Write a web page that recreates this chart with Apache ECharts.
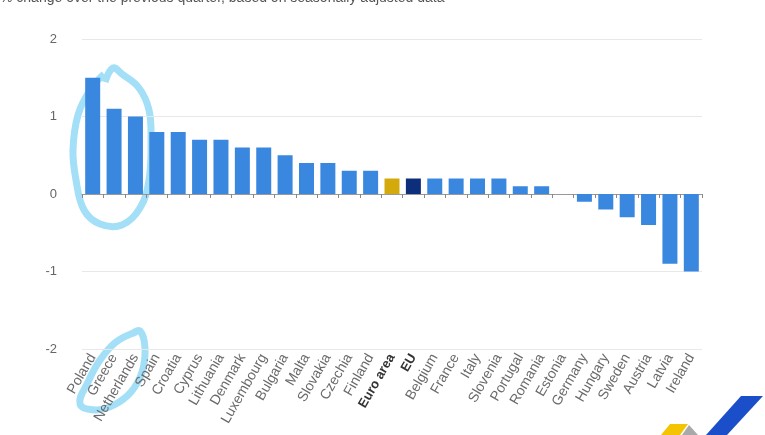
<!DOCTYPE html>
<html>
<head>
<meta charset="utf-8">
<script src="https://cdn.jsdelivr.net/npm/echarts@6/dist/echarts.min.js"></script>
<style>
html,body{margin:0;padding:0;background:#fff;}
#chart{width:765px;height:435px;}
</style>
</head>
<body>
<div id="chart"></div>
<script>
const subtitle = '% change over the previous quarter, based on seasonally adjusted data';
const countries = ['Poland','Greece','Netherlands','Spain','Croatia','Cyprus','Lithuania','Denmark','Luxembourg','Bulgaria','Malta','Slovakia','Czechia','Finland','Euro area','EU','Belgium','France','Italy','Slovenia','Portugal','Romania','Estonia','Germany','Hungary','Sweden','Austria','Latvia','Ireland'];
const values = [1.5,1.1,1.0,0.8,0.8,0.7,0.7,0.6,0.6,0.5,0.4,0.4,0.3,0.3,0.2,0.2,0.2,0.2,0.2,0.2,0.1,0.1,0.0,-0.1,-0.2,-0.3,-0.4,-0.9,-1.0];
const yTicks = [-2,-1,0,1,2];
const highlight = {'Euro area':'#d4a90c','EU':'#0d2e7a'};
const baseColor = '#3a87e0';

const chart = echarts.init(document.getElementById('chart'));
const barData = countries.map((c,i)=>({value: values[i], itemStyle:{color: highlight[c] || baseColor}}));
const pen = 'rgba(140,215,245,0.8)';

chart.setOption({
  animation:false,
  backgroundColor:'#fff',
  textStyle:{fontFamily:'Liberation Sans, Arial, sans-serif'},
  graphic:[
    {type:'text', left:0, top:-9, style:{text:subtitle, fill:'#555', fontSize:14, fontFamily:'Liberation Sans, Arial, sans-serif'}},
    {type:'polyline', silent:true, shape:{smooth:0.4, points:[[105,82],[113,68],[122,74],[139,88],[149,110],[151,140],[149,180],[140,208],[122,225],[100,224],[84,210],[76,180],[73,150],[78,115],[90,90],[104,74]]},
     style:{stroke:pen, lineWidth:7, fill:null}},
    {type:'polyline', silent:true, shape:{smooth:0.4, points:[[132,334],[140,331],[145,348],[142,372],[131,392],[114,405],[96,410],[80,404],[88,382],[100,360],[116,342],[136,332]]},
     style:{stroke:pen, lineWidth:7, fill:null}},
    {type:'polygon', silent:true, shape:{points:[[661,435],[670,424],[688,424],[680,435]]}, style:{fill:'#f5c400'}},
    {type:'polygon', silent:true, shape:{points:[[682,435],[689,425],[698,435]]}, style:{fill:'#a9a9a9'}},
    {type:'polygon', silent:true, shape:{points:[[706,435],[741,396],[763,396],[727,435]]}, style:{fill:'#1b4fc9'}}
  ],
  grid:{left:82, right:63, top:39, bottom:86},
  xAxis:[
    {type:'category', data:countries, position:'bottom',
     axisLine:{show:false, onZero:false}, axisTick:{show:false}, splitLine:{show:false},
     axisLabel:{interval:0, rotate:60, margin:6, color:'#6a6a6a', fontSize:14,
       formatter:(v)=> highlight[v] ? '{b|'+v+'}' : v,
       rich:{b:{fontWeight:'bold', color:'#333', fontSize:13}}}},
    {type:'category', data:countries, position:'bottom',
     axisLine:{show:true, onZero:true, lineStyle:{color:'#999', width:1}},
     axisTick:{show:true, interval:0, length:4, lineStyle:{color:'#888'}},
     axisLabel:{show:false}, splitLine:{show:false}}
  ],
  yAxis:{type:'value', min:-2, max:2, interval:1,
    axisLine:{show:false}, axisTick:{show:false},
    axisLabel:{color:'#666', fontSize:13, margin:25, formatter:(v)=> yTicks.includes(v) ? String(v) : ''},
    splitLine:{lineStyle:{color:'#e8e8e8'}}},
  series:[{type:'bar', xAxisIndex:0, data:barData, barWidth:15}]
});
</script>
</body>
</html>
